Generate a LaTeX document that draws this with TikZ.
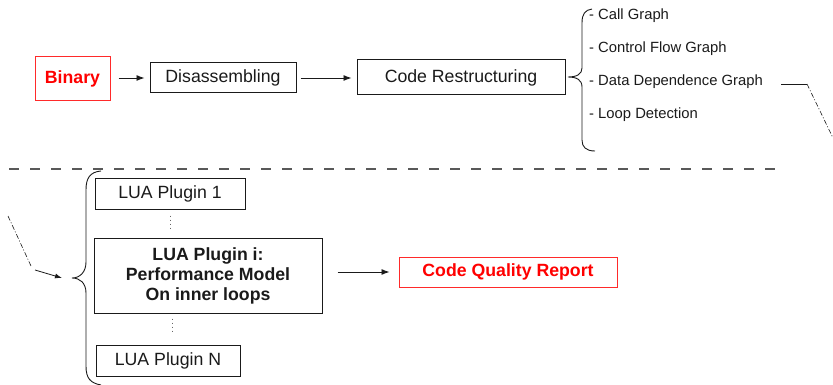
\documentclass[tikz,border=0pt]{standalone}
\usepackage{fontspec}
\setmainfont{Liberation Sans}
\usetikzlibrary{arrows.meta}
\definecolor{ink}{HTML}{1A1A1A}
\definecolor{redtxt}{HTML}{FF0000}
\definecolor{redline}{HTML}{FF2A2A}
\tikzset{
  box/.style={draw=ink, line width=1pt, inner sep=0pt, text=ink, font=\fontsize{17.7}{20}\selectfont, align=center},
  redbox/.style={draw=redline, line width=1pt, inner sep=0pt, text=redtxt, font=\fontsize{17.7}{20}\selectfont\bfseries, align=center},
  item/.style={anchor=west, inner sep=0pt, text=ink, font=\fontsize{14.8}{16}\selectfont},
  arr/.style={draw=ink, line width=0.9pt, -{Latex[length=8pt,width=6pt]}},
  brace/.style={draw=ink, line width=0.9pt},
  dashdot/.style={draw=ink, line width=0.6pt, dash pattern=on 5pt off 2pt on 1pt off 2pt},
  sep/.style={draw=black!65, line width=1.3pt, dash pattern=on 10pt off 11pt},
  dots/.style={draw=black!60, line width=0.8pt, dash pattern=on 1pt off 3pt}
}
\begin{document}
\begin{tikzpicture}[x=1pt,y=-1pt]
\useasboundingbox (0,0) rectangle (833,385);
% top row
\node[redbox, minimum width=75, minimum height=44] (bin) at (72.5,79) {Binary};
\node[box, minimum width=146, minimum height=30] (dis) at (223,78) {Disassembling};
\node[box, minimum width=208, minimum height=35] (cr) at (461,77.5) {Code Restructuring};
\draw[arr] ([xshift=8]bin.east |- dis.west) -- ([xshift=-5]dis.west);
\draw[arr] ([xshift=4]dis.east) -- ([xshift=-5]dis.east -| cr.west);
% brace and items
\coordinate (tb) at (568,77);
\draw[brace] (592,9) .. controls (585,10) and (582,14) .. (582,23) -- (582,68)
  .. controls (582,74) and (577,77) .. (tb)
  .. controls (577,77) and (582,80) .. (582,87) -- (582,140)
  .. controls (582,147) and (586,151) .. (595,151);
\node[item] (i1) at (589,16) {- Call Graph};
\node[item] (i2) at (589,49) {- Control Flow Graph};
\node[item] (i3) at (589,82) {- Data Dependence Graph};
\node[item] (i4) at (589,115) {- Loop Detection};
\coordinate (c1) at (781,84);
\coordinate (c2) at (807,84);
\coordinate (c3) at (833,138);
\draw[draw=ink, line width=0.7pt] (c1) -- (c2);
\draw[dashdot] (c2) -- (c3);
% separator
\coordinate (s1) at (9,169);
\coordinate (s2) at (786,169);
\draw[sep] (s1) -- (s2);
% lower part
\coordinate (c4) at (8,216);
\coordinate (c5) at (31,266);
\coordinate (c6) at (35,270);
\coordinate (bt) at (72,278);
\draw[dashdot] (c4) -- (c5);
\draw[draw=ink, line width=0.8pt, -{Latex[length=7pt,width=5pt]}] (c6) -- ([xshift=-10]bt);
\draw[brace] (101,171) .. controls (90,172) and (86,178) .. (86,190) -- (86,262)
  .. controls (86,272) and (80,278) .. (bt)
  .. controls (80,278) and (86,283) .. (86,293) -- (86,366)
  .. controls (86,378) and (90,383) .. (101,385);
\node[box, minimum width=150, minimum height=30] (p1) at (170,194) {LUA Plugin 1};
\node[box, minimum width=228, minimum height=75, font=\fontsize{17.7}{20}\selectfont\bfseries] (pi) at (208,275.5) {LUA Plugin i:\\Performance Model\\On inner loops};
\node[box, minimum width=144, minimum height=31] (pn) at (168,360.5) {LUA Plugin N};
\node[redbox, minimum width=218, minimum height=30] (cqr) at (508,272) {Code Quality Report};
\draw[dots] ([yshift=-6]p1.south) -- ([yshift=9]p1.south |- pi.north);
\draw[dots] ([xshift=-36,yshift=-5]pi.south) -- ([xshift=-36,yshift=12]pi.south |- pn.north);
\draw[arr] ([xshift=15]pi.east |- cqr.west) -- ([xshift=-9]cqr.west);
\end{tikzpicture}
\end{document}
